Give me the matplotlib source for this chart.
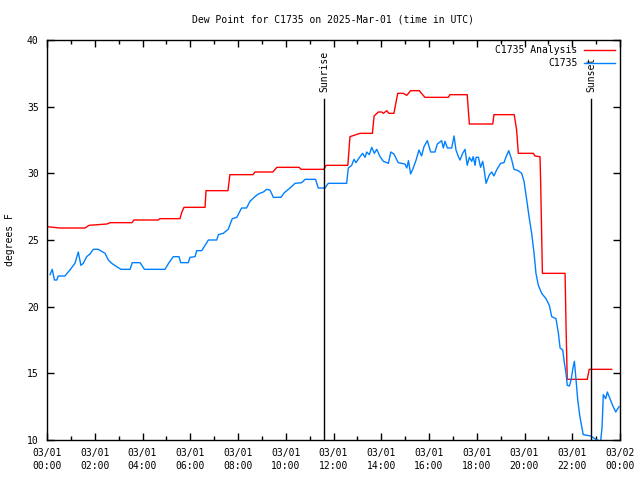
import numpy as np
import matplotlib
matplotlib.use('Agg')
from matplotlib import pyplot as plt

# hours since 03/01 00:00 UTC
ana_t = [0.0, 0.54, 1.59, 1.76, 2.51, 2.64, 3.56, 3.64, 4.65, 4.73, 5.57, 5.65, 5.74,
         6.62, 6.66, 7.58, 7.66, 8.63, 8.71, 9.46, 9.63, 10.56, 10.64, 11.60, 11.69,
         12.60, 12.69, 13.11, 13.63, 13.70, 13.88, 14.02, 14.09, 14.23, 14.32, 14.53,
         14.69, 14.92, 15.07, 15.23, 15.59, 15.83, 16.81, 16.88, 17.60, 17.69, 18.67,
         18.72, 19.57, 19.67, 19.74, 20.37, 20.44, 20.65, 20.68, 20.75, 21.70, 21.74,
         21.79, 22.63, 22.71, 23.65]
ana_v = [26.0, 25.9, 25.9, 26.1, 26.2, 26.3, 26.3, 26.5, 26.5, 26.6, 26.6, 27.1, 27.45,
         27.45, 28.7, 28.7, 29.9, 29.9, 30.1, 30.1, 30.45, 30.45, 30.3, 30.3, 30.6,
         30.6, 32.75, 33.0, 33.0, 34.3, 34.6, 34.6, 34.5, 34.7, 34.5, 34.5,
         36.0, 36.0, 35.85, 36.2, 36.2, 35.7, 35.7, 35.9, 35.9, 33.7, 33.7,
         34.4, 34.4, 33.25, 31.5, 31.5, 31.3, 31.25, 29.05, 22.5, 22.5, 18.5,
         14.55, 14.55, 15.3, 15.3]

obs_t = [0.13, 0.22, 0.31, 0.41, 0.47, 0.75, 0.96, 1.17, 1.31, 1.42, 1.52, 1.66, 1.80,
         1.94, 2.15, 2.43, 2.57, 2.71, 2.92, 3.10, 3.48, 3.57, 3.90, 4.08, 4.94, 5.11,
         5.29, 5.53, 5.60, 5.92, 5.99, 6.20, 6.27, 6.48, 6.62, 6.76, 7.11, 7.18, 7.38,
         7.59, 7.76, 7.95, 8.15, 8.36, 8.50, 8.71, 8.85, 9.06, 9.20, 9.34, 9.48, 9.80,
         9.94, 10.18, 10.39, 10.67, 10.81, 11.25, 11.36, 11.64, 11.78, 12.55, 12.62,
         12.76, 12.86, 12.94, 13.11, 13.22, 13.32, 13.39, 13.50, 13.60, 13.71, 13.81,
         13.95, 14.09, 14.30, 14.40, 14.53, 14.71, 14.99, 15.07, 15.14, 15.23, 15.34,
         15.46, 15.58, 15.69, 15.79, 15.93, 16.07, 16.25, 16.35, 16.53, 16.60, 16.67,
         16.77, 16.95, 17.05, 17.13, 17.23, 17.30, 17.41, 17.51, 17.60, 17.69, 17.79,
         17.85, 17.93, 17.97, 18.07, 18.16, 18.25, 18.30, 18.39, 18.53, 18.63, 18.72,
         18.83, 19.00, 19.14, 19.23, 19.34, 19.46, 19.56, 19.74, 19.88, 19.98, 20.09,
         20.19, 20.30, 20.40, 20.48, 20.58, 20.72, 20.90, 21.04, 21.14, 21.32, 21.42,
         21.49, 21.60, 21.66, 21.74, 21.79, 21.88, 21.95, 22.04, 22.09, 22.16, 22.23,
         22.32, 22.46, 22.77, 22.99, 23.19, 23.25, 23.30, 23.40, 23.47, 23.58, 23.69,
         23.82, 23.89, 23.96]
obs_v = [22.4, 22.8, 22.0, 22.0, 22.3, 22.3, 22.75, 23.25, 24.1, 23.1, 23.25, 23.75, 23.95,
         24.3, 24.3, 24.0, 23.5, 23.25, 23.0, 22.8, 22.8, 23.3, 23.3, 22.8, 22.8, 23.3,
         23.75, 23.75, 23.3, 23.3, 23.7, 23.75, 24.2, 24.2, 24.6, 25.0, 25.0, 25.4, 25.5,
         25.8, 26.6, 26.7, 27.4, 27.4, 27.9, 28.25, 28.45, 28.6, 28.8, 28.75, 28.2, 28.2,
         28.55, 28.9, 29.25, 29.3, 29.55, 29.55, 28.9, 28.9, 29.25, 29.25, 30.4,
         30.6, 31.05, 30.8, 31.25, 31.5, 31.2, 31.6, 31.4, 31.95, 31.5, 31.8,
         31.25, 30.9, 30.75, 31.6, 31.45, 30.8, 30.7, 30.4, 30.95, 29.95, 30.4,
         31.0, 31.75, 31.3, 32.0, 32.45, 31.6, 31.6, 32.2, 32.45, 31.9, 32.4,
         31.9, 31.9, 32.8, 31.75, 31.25, 31.0, 31.5, 31.8, 30.6, 31.2, 30.9,
         31.25, 30.6, 31.2, 31.2, 30.45, 30.9, 30.4, 29.25, 29.9, 30.1, 29.8,
         30.25, 30.75, 30.8, 31.25, 31.7, 31.05, 30.3, 30.2, 30.0, 29.4, 28.05,
         26.75, 25.5, 24.0, 22.5, 21.6, 21.0, 20.6, 20.1, 19.25, 19.1, 18.0,
         16.9, 16.75, 15.9, 15.0, 14.1, 14.05, 14.5, 15.5, 15.9, 14.5, 13.0,
         11.75, 10.4, 10.3, 10.05, 9.9, 11.0, 13.4, 13.1, 13.6, 13.1, 12.6,
         12.1, 12.3, 12.5]

sunrise = 11.6
sunset = 22.79

xticks = list(range(0, 25, 2))
xlabels = ['03/01\n%02d:00' % h for h in range(0, 24, 2)] + ['03/02\n00:00']
yticks = [10, 15, 20, 25, 30, 35, 40]

plt.rcParams['font.family'] = 'DejaVu Sans Mono'
plt.rcParams['font.size'] = 7

fig = plt.figure(figsize=(6.4, 4.8), dpi=100)
ax = fig.add_axes([47/640, 40/480, 573/640, 400/480])

ax.plot(ana_t, ana_v, color='#ff0000', lw=1.0, label='C1735 Analysis')
ax.plot(obs_t, obs_v, color='#0080ff', lw=1.0, label='C1735')

for t, name in [(sunrise, 'Sunrise'), (sunset, 'Sunset')]:
    ax.plot([t, t], [10, 35.55], color='black', lw=1.0)
    ax.text(t, 36.1, name, rotation=90, ha='center', va='bottom', fontsize=7)

ax.set_xlim(0, 24)
ax.set_ylim(10, 40)
ax.set_xticks(xticks)
ax.set_xticklabels(xlabels, linespacing=1.35)
ax.set_xticks(range(1, 24, 2), minor=True)
ax.set_yticks(yticks)
ax.tick_params(which='both', direction='in', top=True, right=True, width=1.0)
ax.tick_params(which='major', length=5, pad=6)
ax.tick_params(which='minor', length=3)
for s in ax.spines.values():
    s.set_linewidth(1.0)

fig.text(10/640, 1 - 240/480, 'degrees F', rotation=90, ha='center', va='center')
fig.text(333/640, 1 - 20/480, 'Dew Point for C1735 on 2025-Mar-01 (time in UTC)',
         ha='center', va='center')

ax.legend(loc='upper right', frameon=False, markerfirst=False, handlelength=3.2,
          handletextpad=0.6, labelspacing=0.3, borderaxespad=0.15, fontsize=7)

fig.savefig('out.png', dpi=100)
